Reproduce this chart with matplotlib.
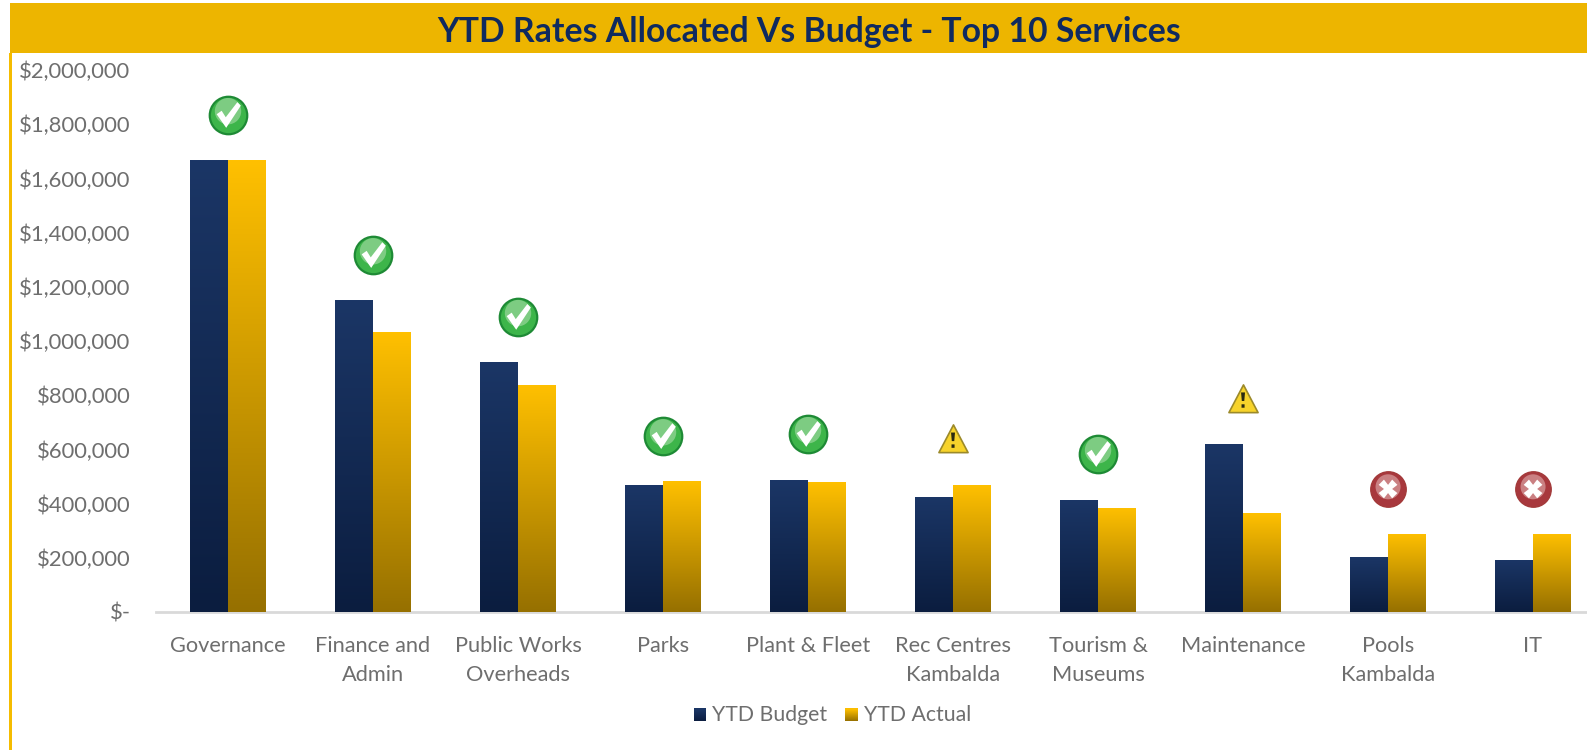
import numpy as np
import matplotlib
matplotlib.use("Agg")
import matplotlib.pyplot as plt
from matplotlib.colors import LinearSegmentedColormap
from matplotlib.legend_handler import HandlerBase
from matplotlib.patches import Rectangle
from matplotlib.path import Path

plt.rcParams['font.family'] = ['Lato', 'DejaVu Sans']

categories = ['Governance', 'Finance and\nAdmin', 'Public Works\nOverheads', 'Parks', 'Plant & Fleet',
              'Rec Centres\nKambalda', 'Tourism &\nMuseums', 'Maintenance', 'Pools\nKambalda', 'IT']
ytd_budget = [1667000, 1151000, 923000, 468000, 487000, 426000, 415000, 621000, 202000, 193000]
ytd_actual = [1667000, 1032000, 838000, 482000, 478000, 467000, 385000, 364000, 289000, 289000]
status_kind = ['ok', 'ok', 'ok', 'ok', 'ok', 'warn', 'ok', 'warn', 'bad', 'bad']
status_level = [1834000, 1317000, 1089000, 649000, 657000, 638000, 583000, 786000, 454000, 454000]
y_ticks = [0, 200000, 400000, 600000, 800000, 1000000, 1200000, 1400000, 1600000, 1800000, 2000000]
y_labels = ['$-', '$200,000', '$400,000', '$600,000', '$800,000', '$1,000,000', '$1,200,000',
            '$1,400,000', '$1,600,000', '$1,800,000', '$2,000,000']
title = 'YTD Rates Allocated Vs Budget - Top 10 Services'

W, H = 1587, 750
fig = plt.figure(figsize=(W / 100, H / 100), dpi=100, facecolor='white')

GOLD_BAND = '#EDB500'
fig.add_artist(Rectangle((10 / W, 1 - 53 / H), (W - 10) / W, 50 / H, transform=fig.transFigure,
                         facecolor=GOLD_BAND, edgecolor='none'))
fig.add_artist(Rectangle((9 / W, 0), 2.5 / W, 1 - 53 / H, transform=fig.transFigure,
                         facecolor='#F5BC00', edgecolor='none'))
fig.text(809 / W, 1 - 32 / H, title, ha='center', va='center', fontsize=24.3, fontweight='bold', color='#0F2A5F')

ax = fig.add_axes([155.5 / W, 1 - 612 / H, (W - 155.5) / W, (612 - 70) / H])
ax.set_facecolor('none')
ax.set_xlim(-0.5, 9.372)
ax.set_ylim(0, 2000000)

x = np.arange(len(categories))
bw = 0.262
navy = LinearSegmentedColormap.from_list('navy', ['#0B1D3F', '#1B3666'])
gold = LinearSegmentedColormap.from_list('gold', ['#967000', '#FFC000'])
grad = np.linspace(1, 0, 256).reshape(-1, 1)


def gradient_bars(xs, vals, cmap):
    bars = ax.bar(xs, vals, bw, color=cmap(0.5), edgecolor='none', zorder=2)
    for b in bars:
        bx, by, bwid, bh = b.get_x(), b.get_y(), b.get_width(), b.get_height()
        im = ax.imshow(grad, extent=(bx, bx + bwid, by, by + bh), cmap=cmap, vmin=0, vmax=1,
                       aspect='auto', zorder=3)
        im.set_clip_path(b)
    return bars


gradient_bars(x - bw / 2, ytd_budget, navy)
gradient_bars(x + bw / 2, ytd_actual, gold)
ax.set_xlim(-0.5, 9.372)
ax.set_ylim(0, 2000000)

for s in ['top', 'right', 'left']:
    ax.spines[s].set_visible(False)
ax.spines['bottom'].set_color('#D9D9D9')
ax.spines['bottom'].set_linewidth(2)
ax.spines['bottom'].set_zorder(1)
ax.set_xticks(x, categories)
ax.set_yticks(y_ticks, y_labels)
ax.tick_params(axis='both', length=0)
ax.tick_params(axis='y', pad=18, labelsize=15.8, labelcolor='#6E6E6E')
ax.tick_params(axis='x', pad=17, labelsize=15.7, labelcolor='#6E6E6E')
for lab in ax.get_xticklabels():
    lab.set_linespacing(1.58)

# status icons, drawn as marker layers
CHECK = Path([(-0.75, 0.05), (-0.42, 0.28), (-0.15, -0.15), (0.62, 0.85), (0.85, 0.62), (-0.12, -0.85), (-0.75, 0.05)], closed=True)
CROSS = Path([(-0.35, -0.8), (0, -0.35), (0.35, -0.8), (0.8, -0.35), (0.35, 0), (0.8, 0.35), (0.35, 0.8), (0, 0.35),
              (-0.35, 0.8), (-0.8, 0.35), (-0.35, 0), (-0.8, -0.35), (-0.35, -0.8)], closed=True)
TRI = Path([(-1, -0.9), (1, -0.9), (0, 1), (-1, -0.9)], closed=True)
BANG = Path([(-0.16, -0.12), (0.16, -0.12), (0.26, 1), (-0.26, 1), (-0.16, -0.12),
             (-0.2, -1), (0.2, -1), (0.2, -0.55), (-0.2, -0.55), (-0.2, -1)],
            [Path.MOVETO, Path.LINETO, Path.LINETO, Path.LINETO, Path.CLOSEPOLY,
             Path.MOVETO, Path.LINETO, Path.LINETO, Path.LINETO, Path.CLOSEPOLY])

for xi, kind, lvl in zip(x, status_kind, status_level):
    if kind == 'ok':
        ax.scatter(xi, lvl, s=27 ** 2, c='#3DB54A', edgecolors='#1E8A35', linewidths=1.6, zorder=5)
        ax.scatter(xi, lvl + 14000, s=19 ** 2, c='#A9DDA9', edgecolors='none', alpha=0.6, zorder=6)
        ax.scatter(xi, lvl, s=18.5 ** 2, marker=CHECK, c='white', edgecolors='none', zorder=7)
    elif kind == 'bad':
        ax.scatter(xi, lvl, s=25.5 ** 2, c='#A8383D', edgecolors='#A33A3A', linewidths=1, zorder=5)
        ax.scatter(xi, lvl + 8000, s=18 ** 2, c='#D9A0A0', edgecolors='none', alpha=0.7, zorder=6)
        ax.scatter(xi, lvl, s=13.5 ** 2, marker=CROSS, c='white', edgecolors='none', zorder=7)
    else:
        ax.scatter(xi, lvl, s=21 ** 2, marker=TRI, c='#F7D32B', edgecolors='#9C8A2A', linewidths=1.2, zorder=5)
        ax.scatter(xi, lvl - 4000, s=11 ** 2, marker=BANG, c='#2A2A10', edgecolors='none', zorder=6)


class GradientSwatch(HandlerBase):
    def __init__(self, cmap):
        super().__init__()
        self.cmap = cmap

    def create_artists(self, legend, orig, xd, yd, width, height, fontsize, trans):
        n = 12
        side = 9.0
        x0, y0 = -xd + (width - side) / 2, -yd + (height - side) / 2 - 1
        return [Rectangle((x0, y0 + i * side / n), side, side / n + 0.15, facecolor=self.cmap((i + 0.5) / n),
                          edgecolor='none', transform=trans) for i in range(n)]


h1 = Rectangle((0, 0), 1, 1, label='YTD Budget')
h2 = Rectangle((0, 0), 1, 1, label='YTD Actual')
leg = fig.legend(handles=[h1, h2], handler_map={h1: GradientSwatch(navy), h2: GradientSwatch(gold)},
                 loc='center', bbox_to_anchor=(832 / W, 1 - 715 / H), ncol=2, frameon=False, fontsize=15.3,
                 labelcolor='#6E6E6E', handlelength=0.65, handletextpad=0.25, columnspacing=0.8)

fig.savefig('out.png', dpi=100, facecolor='white')
